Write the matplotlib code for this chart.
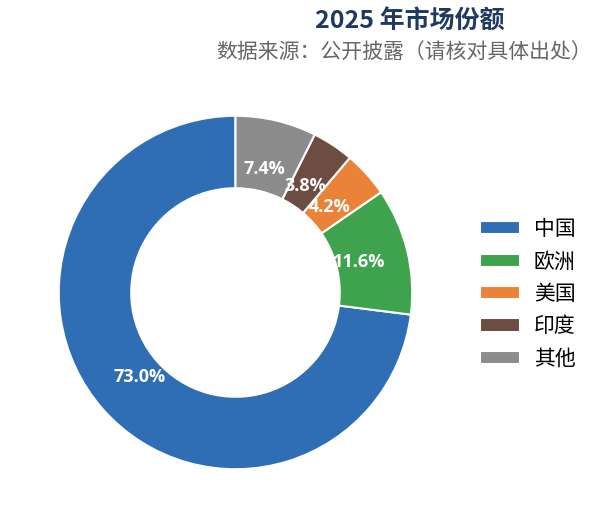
import matplotlib
matplotlib.use("Agg")
import matplotlib.pyplot as plt

plt.rcParams['font.family'] = ['Noto Sans CJK SC', 'DejaVu Sans']

regions = ["中国", "欧洲", "美国", "印度", "其他"]
shares = [73.0, 11.6, 4.2, 3.8, 7.4]
colors = ["#2f6eb5", "#3fa34d", "#ea8338", "#6d4c41", "#8c8c8c"]

title = "2025 年市场份额"
subtitle = "数据来源：公开披露（请核对具体出处）"

fig = plt.figure(figsize=(6.05, 5.29), dpi=100)
ax = fig.add_axes([57 / 605, 1 - 471 / 529, 357 / 605, 357 / 529])

wedges, texts, autotexts = ax.pie(
    shares, colors=colors, startangle=90, counterclock=True,
    autopct="%.1f%%", pctdistance=0.72,
    wedgeprops=dict(width=0.41, edgecolor="white", linewidth=1.5),
    textprops=dict(color="white", fontsize=13, fontweight="bold",
                   family=["Open Sans", "DejaVu Sans"]),
)
ax.set_aspect("equal")
ax.set_xlim(-1.01, 1.01)
ax.set_ylim(-1.01, 1.01)

fig.legend(wedges, regions, loc="center left", bbox_to_anchor=(461 / 605, 1 - 294 / 529),
           frameon=False, fontsize=15, handlelength=1.95, handleheight=0.6,
           labelspacing=0.5, handletextpad=0.65)

fig.text(0.678, 1 - 22 / 529, title, ha="center", va="center",
         fontsize=18, fontweight="bold", color="#1f3a5f")
fig.text(0.668, 1 - 52 / 529, subtitle, ha="center", va="center",
         fontsize=15, color="#666666")

fig.savefig("out.png", dpi=100)
